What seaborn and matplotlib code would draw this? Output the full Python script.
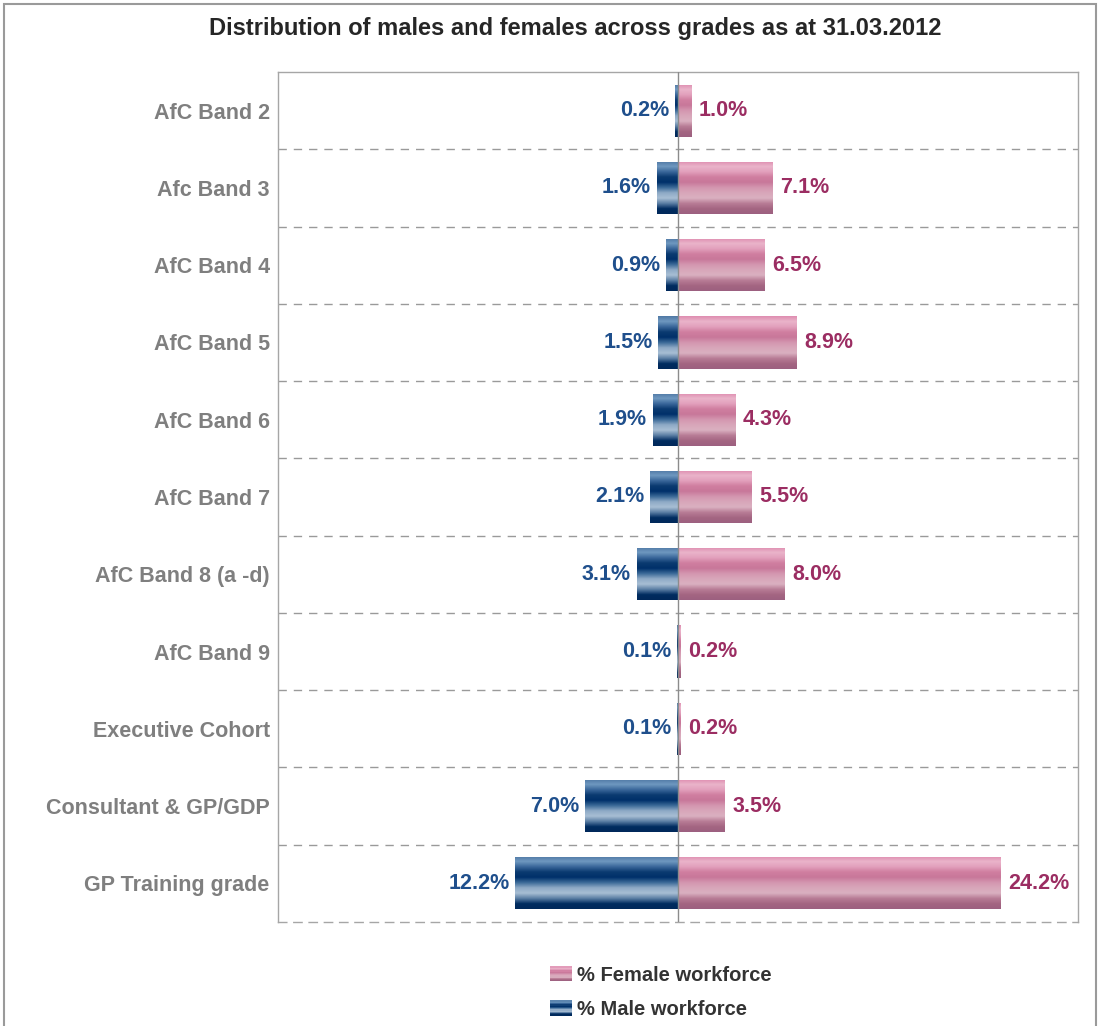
import numpy as np
import pandas as pd
import matplotlib
matplotlib.use("Agg")
import matplotlib.pyplot as plt
import seaborn as sns
from matplotlib.colors import LinearSegmentedColormap
from matplotlib.patches import Rectangle
from matplotlib.legend_handler import HandlerBase

# ---------------- data ----------------
categories = ["AfC Band 2", "Afc Band 3", "AfC Band 4", "AfC Band 5", "AfC Band 6",
              "AfC Band 7", "AfC Band 8 (a -d)", "AfC Band 9", "Executive Cohort",
              "Consultant & GP/GDP", "GP Training grade"]
female_pct = [1.0, 7.1, 6.5, 8.9, 4.3, 5.5, 8.0, 0.2, 0.2, 3.5, 24.2]
male_pct = [0.2, 1.6, 0.9, 1.5, 1.9, 2.1, 3.1, 0.1, 0.1, 7.0, 12.2]
series_names = ["% Female workforce", "% Male workforce"]
title = "Distribution of males and females across grades as at 31.03.2012"

# ---------------- style ----------------
sns.set_theme(style="white")
plt.rcParams["font.family"] = ["Liberation Sans", "DejaVu Sans"]

blue_stops = ["#4f78a4", "#6f98c0", "#3a679a", "#0a3a70", "#00306a", "#3c6a98",
              "#8eaac6", "#a8bed4", "#5b7ea4", "#002c60", "#00285a"]
pink_stops = ["#de8cb0", "#eab4ca", "#e2a0bc", "#d07ea0", "#c8789a", "#d496b0",
              "#d8a6ba", "#dab0c0", "#b87c96", "#a46682", "#9c6080"]
blue_cmap = LinearSegmentedColormap.from_list("bl", blue_stops)
pink_cmap = LinearSegmentedColormap.from_list("pk", pink_stops)
grad = np.linspace(0, 1, 256).reshape(-1, 1)

male_color_txt = "#1f4f8c"
female_color_txt = "#9b2d62"
gray_lbl = "#7f7f7f"
edge_gray = "#a6a6a6"

df = pd.DataFrame({"grade": categories, "female": female_pct,
                   "male_neg": [-v for v in male_pct]})

W, H = 1101, 1026
fig = plt.figure(figsize=(W / 100, H / 100), dpi=100)
ax = fig.add_axes([278 / W, 1 - 922 / H, 800 / W, 850 / H])

bar_w = 0.675
sns.barplot(data=df, x="female", y="grade", orient="h", color="#d48aa8",
            width=bar_w, ax=ax, linewidth=0, saturation=1)
n_f = len(ax.patches)
sns.barplot(data=df, x="male_neg", y="grade", orient="h", color="#2a5a8c",
            width=bar_w, ax=ax, linewidth=0, saturation=1)

# gradient fill clipped to each bar
for i, p in enumerate(ax.patches):
    cmap = pink_cmap if i < n_f else blue_cmap
    x0, y0 = p.get_x(), p.get_y()
    w, h = p.get_width(), p.get_height()
    left, right = min(x0, x0 + w), max(x0, x0 + w)
    top, bottom = y0, y0 + h
    im = ax.imshow(grad, cmap=cmap, aspect="auto", origin="upper",
                   extent=(left, right, bottom, top), zorder=p.get_zorder() + 0.1,
                   interpolation="bilinear")
    im.set_clip_path(p)

ax.set_xlim(-30, 30)
ax.set_ylim(len(categories) - 0.5, -0.5)

# gridlines between categories
ax.hlines([k + 0.5 for k in range(len(categories) - 1)], -30, 30,
          colors="#9a9a9a", linestyles=(0, (6, 5)), linewidth=1.0, zorder=0.5)
ax.axvline(0, color="#8c8c8c", lw=1.0, zorder=5)

# value labels
for k, (f, m) in enumerate(zip(female_pct, male_pct)):
    ax.annotate(f"{f:.1f}%", (f, k), xytext=(5.5, 0), textcoords="offset points",
                ha="left", va="center", fontsize=15.5, fontweight="bold",
                color=female_color_txt)
    ax.annotate(f"{m:.1f}%", (-m, k), xytext=(-4, 0), textcoords="offset points",
                ha="right", va="center", fontsize=15.5, fontweight="bold",
                color=male_color_txt)

ax.set_xlabel("")
ax.set_ylabel("")
ax.set_xticks([])
ax.tick_params(axis="y", length=0, pad=6)
for t in ax.get_yticklabels():
    t.set_fontsize(15.5)
    t.set_fontweight("bold")
    t.set_color(gray_lbl)
for s in ax.spines.values():
    s.set_color(edge_gray)
    s.set_linewidth(1.0)
ax.spines["bottom"].set_linestyle((0, (6, 5)))

# title
fig.text(575 / W, 1 - 29 / H, title, ha="center", va="center",
         fontsize=17, fontweight="bold", color="#262626")

# outer frame
fig.patches.append(Rectangle((4 / W, -0.02), 1092 / W, 1.02 - 4 / H,
                             transform=fig.transFigure, fill=False,
                             edgecolor="#9a9a9a", lw=1.5))


class GradHandler(HandlerBase):
    def __init__(self, cmap):
        super().__init__()
        self.cmap = cmap

    def create_artists(self, legend, orig_handle, xdescent, ydescent, width,
                       height, fontsize, trans):
        arts = []
        n = 12
        for j in range(n):
            c = self.cmap(1 - (j + 0.5) / n)
            r = Rectangle((-xdescent, -ydescent + height * j / n), width,
                          height / n + 0.2, facecolor=c, edgecolor="none",
                          transform=trans)
            arts.append(r)
        return arts


h_f = Rectangle((0, 0), 1, 1, label=series_names[0])
h_m = Rectangle((0, 0), 1, 1, label=series_names[1])
fig.legend([h_f, h_m], series_names, loc="upper left",
           bbox_to_anchor=(542 / W, 1 - 958 / H), frameon=False,
           handler_map={h_f: GradHandler(pink_cmap), h_m: GradHandler(blue_cmap)},
           prop={"weight": "bold", "size": 14.5}, labelcolor="#333333",
           handlelength=1.1, handleheight=0.75, handletextpad=0.25,
           labelspacing=0.75, borderaxespad=0)

fig.savefig("out.png", dpi=100, facecolor="white")
